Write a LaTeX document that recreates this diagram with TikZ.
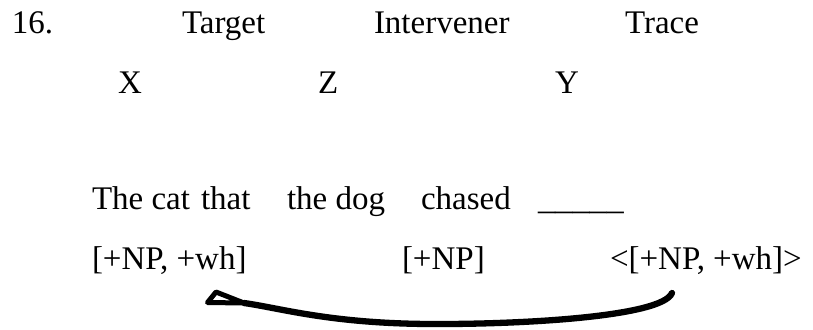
\documentclass[tikz,border=0pt]{standalone}
\usepackage{fontspec}
\setmainfont{Liberation Serif}
\begin{document}
\begin{tikzpicture}[x=1pt,y=-1pt,
  word/.style={anchor=base west,inner sep=0pt,outer sep=0pt,font=\fontsize{33}{40}\selectfont},
  movearrow/.style={line width=6.3pt,line cap=round}]
\useasboundingbox (0,0) rectangle (813,329);
% row 1
\node[word] (num) at (12,34) {16.};
\node[word] (target) at (182,34) {Target};
\node[word] (interv) at (374,34) {Intervener};
\node[word] (trace) at (625,34) {Trace};
% row 2
\node[word] (x) at (118,93) {X};
\node[word] (z) at (318,93) {Z};
\node[word] (y) at (555,93) {Y};
% row 3
\node[word] (thecat) at (92,209) {The cat};
\node[word] (that) at (201,209) {that};
\node[word] (thedog) at (287,209) {the dog};
\node[word] (chased) at (421,209) {chased};
\node[word,xscale=1.04] (gap) at (538,209) {\_\_\_\_\_};
% row 4
\node[word] (f1) at (92,269) {[+NP, +wh]};
\node[word] (f2) at (402,269) {[+NP]};
\node[word] (f3) at (610,269) {<[+NP, +wh]>};
% arrow
\coordinate (tail) at (672,293);
\coordinate (low) at (430,324);
\coordinate (hb) at (244,303);
\coordinate (tip) at (207.5,302.5);
\coordinate (barb) at (216,292);
\draw[movearrow] (tail) .. controls (662,317) and (520,324.5) .. (low)
  .. controls (330,323.5) and (280,308) .. (hb);
\draw[line width=5pt,line join=round,fill=white] (tip) -- (barb) -- (hb) -- cycle;
\end{tikzpicture}
\end{document}
